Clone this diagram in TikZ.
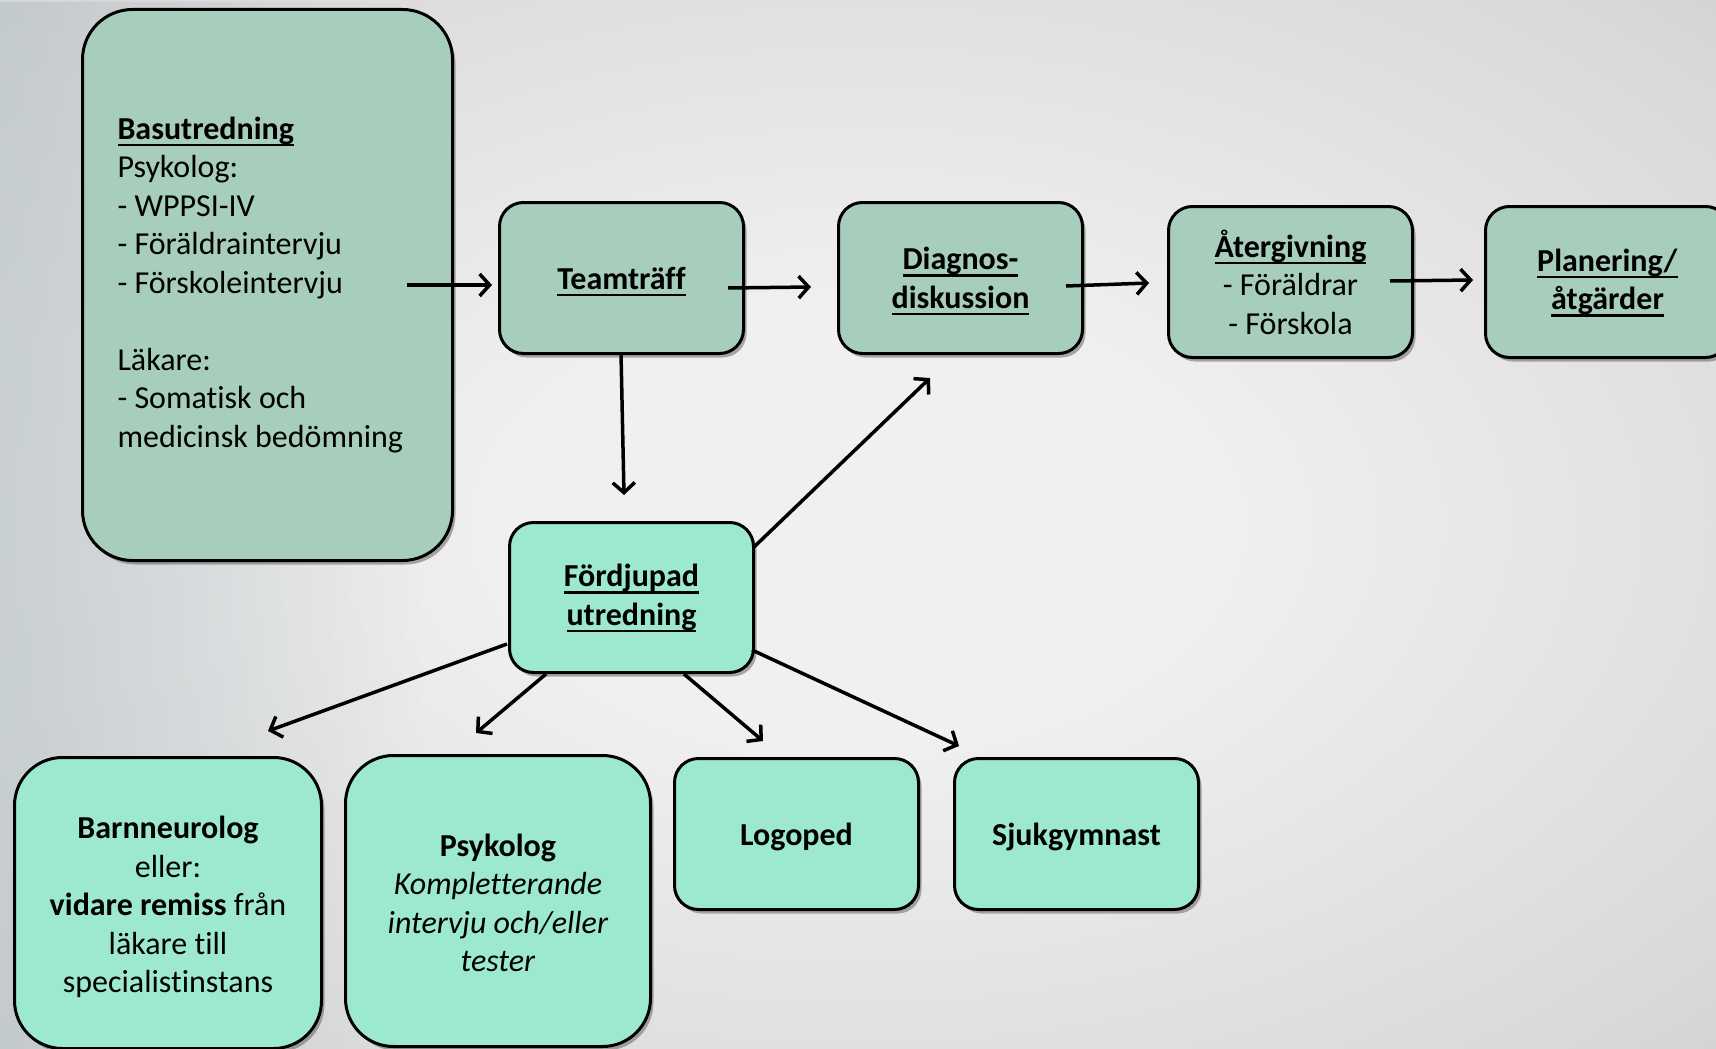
\documentclass[tikz,border=0pt]{standalone}
\usepackage{fontspec}
\setmainfont{Carlito}[Ligatures={NoCommon}]
\usetikzlibrary{arrows.meta,shadows,calc,fadings}
\definecolor{topfill}{HTML}{A7CDBC}
\definecolor{botfill}{HTML}{9DE9CF}
\definecolor{bgin}{HTML}{F0F0F0}
\definecolor{bgq}{HTML}{D8D8D8}
\definecolor{bgmid}{HTML}{BBBBBB}
\definecolor{bgout}{HTML}{A3A3A3}
\definecolor{bgblue}{HTML}{B2BFC4}
\pgfdeclareradialshading{bgshade}{\pgfpoint{0bp}{0bp}}{color(0bp)=(bgin); color(10bp)=(bgin); color(33bp)=(bgq); color(50bp)=(bgmid); color(72bp)=(bgout)}
\newcommand{\myul}[1]{\leavevmode\setbox0=\hbox{#1}\rlap{\smash{\rule[-7pt]{\wd0}{2.4pt}}}\box0}
\begin{document}
\begin{tikzpicture}[x=1pt,y=-1pt,
  box/.style={draw=black, line width=3pt, rounded corners=24pt, anchor=north west,
    font=\fontsize{32}{38.5}\selectfont, align=center, inner sep=0pt,
    minimum width=244pt, minimum height=151pt,
    drop shadow={shadow xshift=3pt, shadow yshift=-4pt, opacity=0.45, fill=black!70}},
  topbox/.style={box, fill=topfill},
  botbox/.style={box, fill=botfill},
  arr/.style={-{Straight Barb[length=10pt,width=22pt,line width=3.5pt]}, line width=3.5pt}]
\useasboundingbox (0,0) rectangle (1716,1049);
\shade[shading=bgshade] (0,0) rectangle (1716,1049);
\fill[bgblue, path fading=east, opacity=0.5] (0,0) rectangle (420,1049);

\node[topbox, rounded corners=50pt, minimum width=370pt, minimum height=551pt, align=flush left, text width=300pt] (bas) at (81,8)
 {\myul{\textbf{Basutredning}}\\ Psykolog:\\ - WPPSI-IV\\ - Föräldraintervju\\ - Förskoleintervju\\ \mbox{}\\ Läkare:\\ - Somatisk och\\ medicinsk bedömning};
\node[topbox] (team) at (498,201) {\myul{\textbf{Teamträff}}};
\node[topbox] (diag) at (837,201) {\myul{\textbf{Diagnos-}}\\ \myul{\textbf{diskussion}}};
\node[topbox] (ater) at (1167,205) {\myul{\textbf{Återgivning}}\\ - Föräldrar\\ - Förskola};
\node[topbox] (plan) at (1484,205) {\myul{\textbf{Planering/}}\\ \myul{\textbf{åtgärder}}};
\node[botbox, minimum height=150pt] (ford) at (508,521) {\myul{\textbf{Fördjupad}}\\ \myul{\textbf{utredning}}};
\node[botbox, rounded corners=48pt, minimum width=307pt, minimum height=291pt] (barn) at (13,756)
 {\rule{0pt}{31pt}\textbf{Barnneurolog}\\ eller:\\ \textbf{vidare remiss} från\\ läkare till\\ specialistinstans};
\node[botbox, rounded corners=48pt, minimum width=305pt, minimum height=291pt] (psyk) at (344,754)
 {\rule{0pt}{26pt}\textbf{Psykolog}\\ \textit{Kompletterande}\\ \textit{intervju och/eller}\\ \textit{tester}};
\node[botbox, text depth=0pt] (logo) at (673,757) {\textbf{Logoped}};
\node[botbox, text depth=0pt] (sjuk) at (953,757) {\textbf{Sjukgymnast}};

\coordinate (a1s) at (407,285); \coordinate (a1e) at (492,285);
\coordinate (a2s) at (728,288); \coordinate (a2e) at (811,287);
\coordinate (a3s) at (1066,286); \coordinate (a3e) at (1149,283);
\coordinate (a4s) at (1390,281); \coordinate (a4e) at (1473,280);
\coordinate (a5s) at (621,353); \coordinate (a5e) at (624,495);
\coordinate (a6s) at (754,547); \coordinate (a6e) at (930,378);
\coordinate (a7s) at (507,644); \coordinate (a7e) at (268,731);
\coordinate (a8s) at (546,674); \coordinate (a8e) at (476,733);
\coordinate (a9s) at (684,674); \coordinate (a9e) at (763,741);
\coordinate (a10s) at (752,650); \coordinate (a10e) at (959,746);
\foreach \i in {1,...,10} \draw[arr] (a\i s) -- (a\i e);
\end{tikzpicture}
\end{document}
